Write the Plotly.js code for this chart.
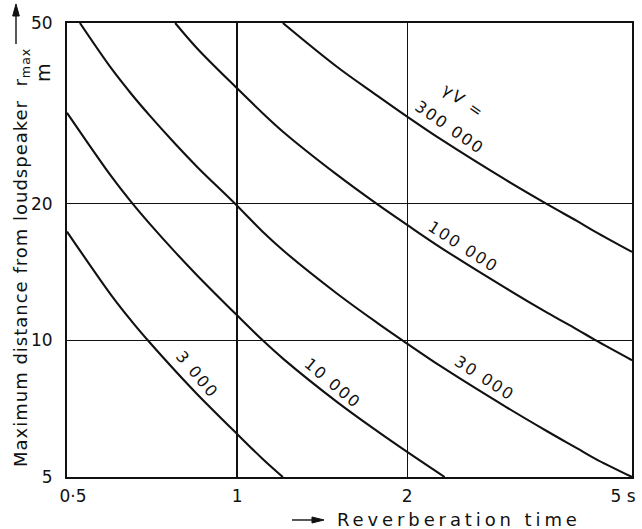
<!DOCTYPE html>
<html>
<head>
<meta charset="utf-8">
<script src="https://cdn.plot.ly/plotly-3.0.1.min.js"></script>
<style>html,body{margin:0;padding:0;background:#fff}#chart{width:642px;height:529px}</style>
</head>
<body>
<div id="chart"></div>
<script>
// Reverberation time T (s) and maximum distance r_max (m)
const t3k   = [0.5, 0.6, 0.651, 0.7, 0.777, 0.85, 1.0, 1.11, 1.205];
const r3k   = [17.36, 12.53, 11.01, 9.90, 8.57, 7.61, 6.22, 5.48, 5.0];
const t10k  = [0.5, 0.6, 0.651, 0.7, 0.777, 0.85, 1.0, 1.11, 1.21, 1.5, 1.77, 2.0, 2.33];
const r10k  = [31.7, 22.9, 20.1, 18.07, 15.64, 13.9, 11.35, 10.0, 9.08, 7.33, 6.31, 5.68, 5.0];
const t30k  = [0.527, 0.6, 0.651, 0.7, 0.777, 0.85, 1.0, 1.11, 1.21, 1.5, 1.77, 2.0, 2.3, 3.0, 3.55, 4.0, 4.3, 5.0];
const r30k  = [50, 39.6, 34.8, 31.3, 27.1, 24.1, 19.8, 17.34, 15.73, 12.7, 10.93, 9.84, 8.75, 7.12, 6.29, 5.78, 5.49, 5.0];
const t100k = [0.777, 0.85, 1.0, 1.11, 1.21, 1.5, 1.77, 2.0, 2.3, 3.0, 3.55, 4.0, 4.3, 5.0];
const r100k = [50, 43.95, 35.9, 31.65, 28.7, 23.2, 19.95, 17.96, 15.97, 13.0, 11.48, 10.56, 10.02, 9.04];
const t300k = [1.205, 1.5, 1.77, 2.0, 2.3, 3.0, 3.55, 4.0, 4.3, 5.0];
const r300k = [50, 40.1, 34.6, 31.1, 27.66, 22.5, 19.9, 18.3, 17.36, 15.66];

const xTickVals = [0.5, 1, 2, 5];
const xTickText = ['0·5', '1', '2', '5 s'];
const yTickVals = [5, 10, 20, 50];
const yTickText = ['5', '10', '20', '50'];

// curve labels: [text, T, r, angle]
const curveLabels = [
  ['3 000', 0.849, 8.39, 50],
  ['10 000', 1.48, 8.05, 40],
  ['30 000', 2.75, 8.26, 33],
  ['100 000', 2.51, 16.06, 33],
  ['300 000', 2.38, 29.5, 35],
  ['γV =', 2.52, 33.6, 35]
];

const FONT = 'DejaVu Sans, Liberation Sans, sans-serif';
const INK = '#111';
const line = {color: INK, width: 2.1, shape: 'spline', smoothing: 1};
const series = [[t3k, r3k], [t10k, r10k], [t30k, r30k], [t100k, r100k], [t300k, r300k]];
const data = series.map(s => ({x: s[0], y: s[1], mode: 'lines', line: line, hoverinfo: 'skip', showlegend: false}));

const annotations = curveLabels.map(l => ({
  x: Math.log10(l[1]), y: Math.log10(l[2]), xref: 'x', yref: 'y',
  xanchor: 'center', yanchor: 'middle',
  text: l[0], showarrow: false, textangle: l[3],
  font: {family: FONT, size: 16, color: INK}
}));
annotations.push({
  xref: 'paper', yref: 'paper', x: -0.0796, y: 0.4835, textangle: -90,
  text: 'Maximum distance from loudspeaker  r<sub>max</sub>', showarrow: false,
  yanchor: 'middle', xanchor: 'center',
  font: {family: FONT, size: 18, color: INK}
});
annotations.push({
  xref: 'paper', yref: 'paper', x: -0.0425, y: 0.892, textangle: -90,
  xanchor: 'center', yanchor: 'middle',
  text: 'm', showarrow: false, font: {family: FONT, size: 19, color: INK}
});
annotations.push({
  xref: 'paper', yref: 'paper', x: 0.694, y: -0.0947, xanchor: 'center', yanchor: 'middle',
  text: 'Reverberation time', showarrow: false,
  font: {family: FONT, size: 18, color: INK}
});
// extra letter spacing per annotation (px)
const spacing = [2, 2, 2, 2, 2, 2, 1.0, 0, 3.9];
// horizontal nudges of x tick labels (px)
const xTickShift = {'0·5': 6, '5 s': -9};

const shapes = [
  // y-axis arrow
  {type: 'line', xref: 'paper', yref: 'paper', x0: -0.09027, x1: -0.09027, y0: 0.9537, y1: 1.022, line: {color: INK, width: 1.4}},
  {type: 'path', xref: 'paper', yref: 'paper', path: 'M -0.09027 1.0419 L -0.09612 1.0154 L -0.08442 1.0154 Z', fillcolor: INK, line: {color: INK, width: 1}},
  // x-axis title arrow
  {type: 'line', xref: 'paper', yref: 'paper', x0: 0.3982, x1: 0.440, y0: -0.0947, y1: -0.0947, line: {color: INK, width: 1.4}},
  {type: 'path', xref: 'paper', yref: 'paper', path: 'M 0.4549 -0.0947 L 0.4336 -0.0881 L 0.4336 -0.1013 Z', fillcolor: INK, line: {color: INK, width: 1}}
];

const axisCommon = {
  type: 'log', showline: true, mirror: true, linecolor: INK, linewidth: 2,
  showgrid: true, gridcolor: INK, gridwidth: 1.3, zeroline: false,
  ticks: '', tickfont: {family: FONT, size: 17, color: INK}, ticklabeloverflow: 'allow'
};

const layout = {
  width: 642, height: 529,
  margin: {l: 67, r: 10, t: 23, b: 52},
  paper_bgcolor: '#fff', plot_bgcolor: '#fff',
  xaxis: Object.assign({}, axisCommon, {
    range: [Math.log10(0.5), Math.log10(5)],
    tickmode: 'array', tickvals: xTickVals, ticktext: xTickText, ticklabelstandoff: 3
  }),
  yaxis: Object.assign({}, axisCommon, {
    range: [Math.log10(5), Math.log10(50)],
    tickmode: 'array', tickvals: yTickVals, ticktext: yTickText, ticklabelstandoff: 9
  }),
  annotations: annotations,
  shapes: shapes,
  showlegend: false
};

Plotly.newPlot('chart', data, layout, {staticPlot: true, displayModeBar: false}).then(() => {
  document.querySelectorAll('#chart g.annotation').forEach(g => {
    const i = +g.getAttribute('data-index');
    if (spacing[i]) g.querySelectorAll('text').forEach(t => { t.style.letterSpacing = spacing[i] + 'px'; });
  });
  document.querySelectorAll('#chart g.xtick text').forEach(t => {
    const s = xTickShift[t.textContent];
    if (s) t.setAttribute('dx', s);
  });
});
</script>
</body>
</html>
